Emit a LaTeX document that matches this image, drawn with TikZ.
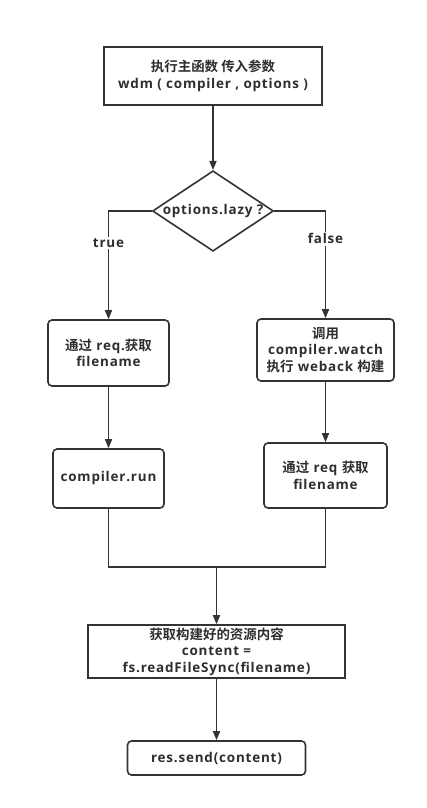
\documentclass[tikz,border=0pt]{standalone}
\usepackage{fontspec}
\setmainfont{Open Sans}[BoldFont={Open Sans Bold}, LetterSpace=6]
\newfontfamily\cjk{Noto Sans CJK SC}[BoldFont={Noto Sans CJK SC Bold}]
\usetikzlibrary{shapes.geometric,arrows.meta}
\begin{document}
\begin{tikzpicture}[x=1bp,y=-1bp,
  every node/.style={font=\bfseries\fontsize{13.5}{16.5}\selectfont, text=black!82, align=center},
  box/.style={draw=black!80, line width=1.6bp, inner sep=0pt},
  rbox/.style={box, rounded corners=4bp},
  dia/.style={draw=black!80, line width=1.6bp, shape=diamond, aspect=1.5, inner sep=0pt},
  conn/.style={draw=black!80, line width=1.6bp},
  arr/.style={conn, -{Triangle[length=9bp,width=7bp]}},
  lbl/.style={fill=white, inner sep=1.5bp}
]
\useasboundingbox (0,0) rectangle (426,808);
\node[box, minimum width=218bp, minimum height=58bp] (start) at (213,76) {\cjk 执行主函数 传入参数\\wdm ( compiler , options )};
\node[dia, minimum width=121bp, minimum height=80bp] (cond) at (213,211) {options.lazy ?};
\node[rbox, minimum width=121bp, minimum height=66bp] (l1) at (108.5,353) {{\cjk 通过} req.{\cjk 获取}\\filename};
\node[rbox, minimum width=137bp, minimum height=62bp] (r1) at (325.5,350) {{\cjk 调用}\\compiler.watch\\{\cjk 执行} weback {\cjk 构建}};
\node[rbox, minimum width=111bp, minimum height=59bp] (l2) at (108.5,478.5) {compiler.run};
\node[rbox, minimum width=123bp, minimum height=65bp] (r2) at (325.5,475.5) {{\cjk 通过} req {\cjk 获取}\\filename};
\node[box, minimum width=257bp, minimum height=53bp] (load) at (216.5,651.5) {{\cjk 获取构建好的资源内容}\\content =\\fs.readFileSync(filename)};
\node[rbox, minimum width=178bp, minimum height=34bp] (send) at (216.5,758) {res.send(content)};
\coordinate (ml) at (108.5,567);
\coordinate (mr) at (325.5,567);
\coordinate (mc) at (216.5,567);
\draw[arr] (start) -- (cond);
\draw[arr] (cond.west) -| node[lbl, pos=0.647] {true} (l1.north);
\draw[arr] (cond.east) -| node[lbl, pos=0.63] {false} (r1.north);
\draw[arr] (l1) -- (l2);
\draw[arr] (r1) -- (r2);
\draw[conn] (l2.south) -- (ml) -- (mr) -- (r2.south);
\draw[arr] (mc) -- (load);
\draw[arr] (load) -- (send);
\end{tikzpicture}
\end{document}
